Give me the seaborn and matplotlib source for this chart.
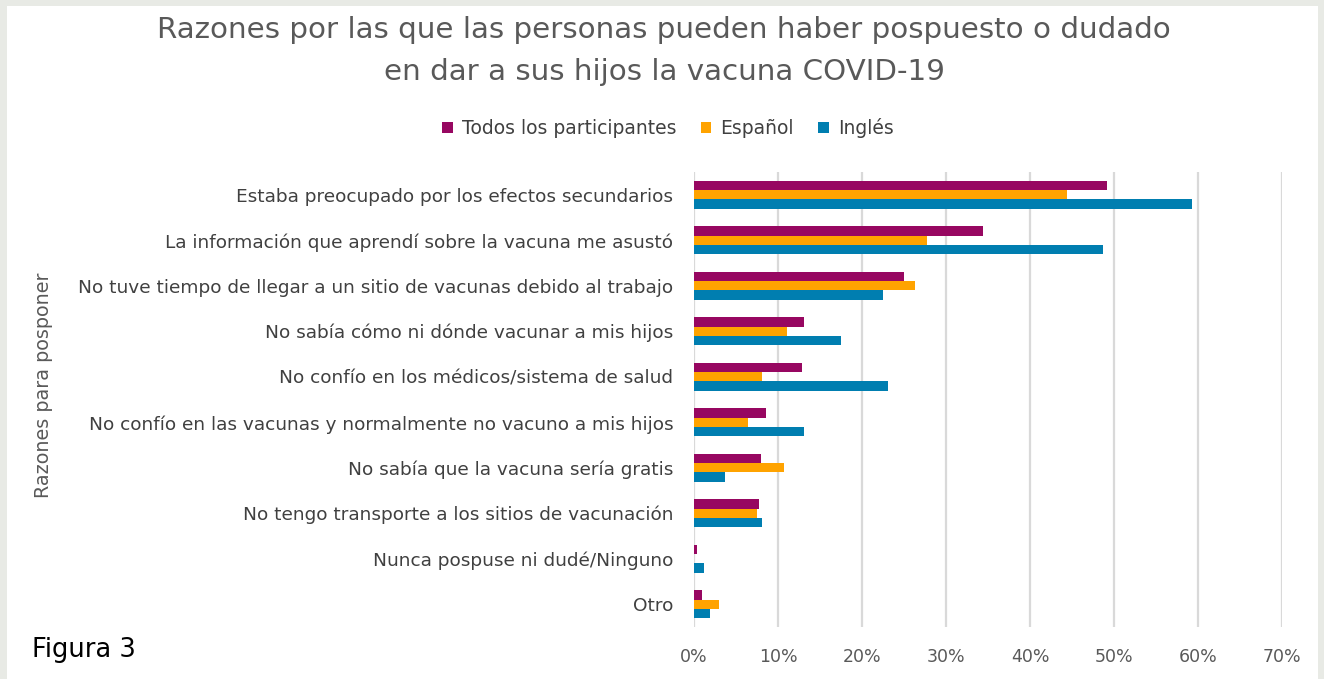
import matplotlib
matplotlib.use("Agg")
import matplotlib.pyplot as plt
import seaborn as sns
import pandas as pd
from matplotlib.patches import Rectangle
from matplotlib.ticker import PercentFormatter

categories = [
    "Estaba preocupado por los efectos secundarios",
    "La información que aprendí sobre la vacuna me asustó",
    "No tuve tiempo de llegar a un sitio de vacunas debido al trabajo",
    "No sabía cómo ni dónde vacunar a mis hijos",
    "No confío en los médicos/sistema de salud",
    "No confío en las vacunas y normalmente no vacuno a mis hijos",
    "No sabía que la vacuna sería gratis",
    "No tengo transporte a los sitios de vacunación",
    "Nunca pospuse ni dudé/Ninguno",
    "Otro",
]
series_names = ["Todos los participantes", "Español", "Inglés"]
todos = [49.2, 34.4, 25.0, 13.1, 12.9, 8.6, 8.0, 7.7, 0.3, 0.9]
espanol = [44.4, 27.7, 26.3, 11.1, 8.1, 6.4, 10.7, 7.5, 0.0, 3.0]
ingles = [59.3, 48.7, 22.5, 17.5, 23.1, 13.1, 3.7, 8.1, 1.2, 1.9]
colors = ["#970761", "#FFA300", "#007EB0"]
xticks = [0, 10, 20, 30, 40, 50, 60, 70]

rows = []
for name, vals in zip(series_names, [todos, espanol, ingles]):
    for c, v in zip(categories, vals):
        rows.append({"Razón": c, "Grupo": name, "Valor": v})
df = pd.DataFrame(rows)

sns.set_theme(style="white")
plt.rcParams["font.family"] = ["DejaVu Sans"]

fig = plt.figure(figsize=(13.24, 6.79), dpi=100)
fig.patch.set_facecolor("#e8eae5")
bg = Rectangle((7 / 1324, 0), (1318 - 7) / 1324, 1 - 6 / 679,
               transform=fig.transFigure, facecolor="white",
               edgecolor="none", zorder=-10)
fig.add_artist(bg)

ax = fig.add_axes([694 / 1324, 1 - 627 / 679, (1282 - 694) / 1324, (627 - 172) / 679])
ax.set_zorder(1)
ax.set_facecolor("none")
sns.barplot(data=df, y="Razón", x="Valor", hue="Grupo", orient="h",
            palette=colors, width=0.62, ax=ax, legend=True, saturation=1,
            linewidth=0, edgecolor="none")

ax.set_xlim(0, 70)
ax.set_xticks(xticks)
ax.xaxis.set_major_formatter(PercentFormatter(decimals=0))
ax.grid(axis="x", color="#d9d9d9", linewidth=1.6)
ax.set_axisbelow(True)
for s in ax.spines.values():
    s.set_visible(False)
ax.tick_params(axis="x", colors="#595959", labelsize=12.5, length=0, pad=15)
ax.tick_params(axis="y", colors="#404040", labelsize=13.3, length=0, pad=15)
ax.set_xlabel("")
ax.set_ylabel("")

leg = ax.legend(loc="center", bbox_to_anchor=(668 / 1324, 1 - 128 / 679),
                bbox_transform=fig.transFigure, ncol=3, frameon=False,
                fontsize=13.5, handlelength=0.55, handleheight=0.55,
                handletextpad=0.5, columnspacing=1.3)
for t in leg.get_texts():
    t.set_color("#404040")

fig.text(664 / 1324, 1 - 51 / 679,
         "Razones por las que las personas pueden haber pospuesto o dudado\nen dar a sus hijos la vacuna COVID-19",
         ha="center", va="center", fontsize=21.2, color="#595959", linespacing=1.62)
fig.text(44 / 1324, 1 - 385 / 679, "Razones para posponer", rotation=90,
         ha="center", va="center", fontsize=13.8, color="#595959")
fig.text(32 / 1324, 1 - 650 / 679, "Figura 3", ha="left", va="center",
         fontsize=18.5, color="black")

fig.savefig("out.png", dpi=100, facecolor=fig.get_facecolor())
